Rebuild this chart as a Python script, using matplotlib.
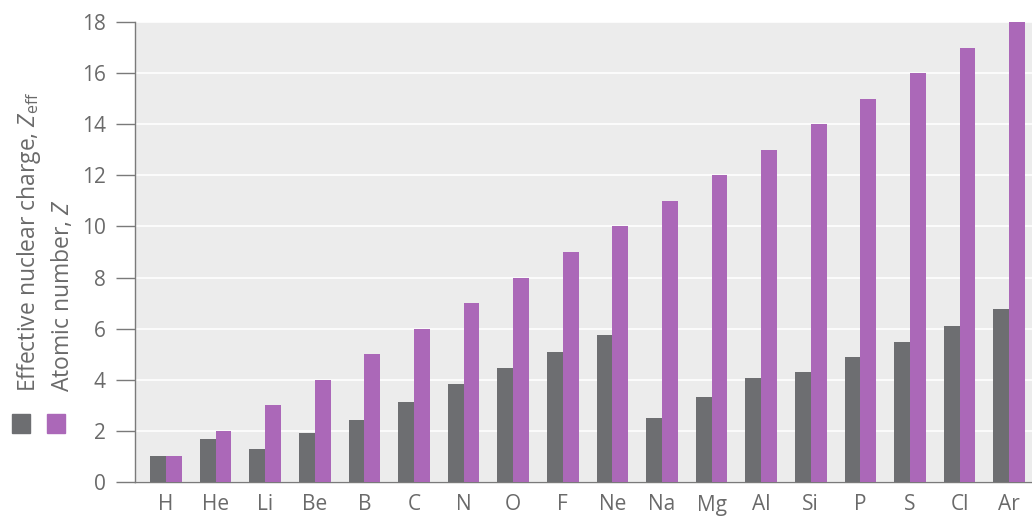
import matplotlib
matplotlib.use("Agg")
import matplotlib.pyplot as plt
from matplotlib.patches import Rectangle
import numpy as np

plt.rcParams['font.family'] = ['Open Sans', 'DejaVu Sans']
plt.rcParams['mathtext.fontset'] = 'custom'
plt.rcParams['mathtext.rm'] = 'Open Sans'
plt.rcParams['mathtext.it'] = 'Open Sans:italic'

# data
elements = ["H", "He", "Li", "Be", "B", "C", "N", "O", "F", "Ne",
            "Na", "Mg", "Al", "Si", "P", "S", "Cl", "Ar"]
z_eff = [1.00, 1.69, 1.28, 1.91, 2.42, 3.14, 3.83, 4.45, 5.10, 5.76,
         2.51, 3.31, 4.07, 4.29, 4.89, 5.48, 6.12, 6.76]
z_atomic = [1, 2, 3, 4, 5, 6, 7, 8, 9, 10, 11, 12, 13, 14, 15, 16, 17, 18]
y_ticks = [0, 2, 4, 6, 8, 10, 12, 14, 16, 18]

gray = "#6d6e71"
purple = "#ab68b8"
text_col = "#6a6a6a"

fig = plt.figure(figsize=(10.32, 5.18), dpi=100)
ax = fig.add_axes([135 / 1032, 36 / 518, 897 / 1032, 460 / 518])
ax.set_facecolor("#ececec")

x = np.arange(len(elements))
w = 0.32
ax.bar(x - w / 2, z_eff, width=w, color=gray, zorder=3)
ax.bar(x + w / 2, z_atomic, width=w, color=purple, zorder=3)

ax.set_xlim(-0.625, len(elements) - 0.54)
ax.set_ylim(0, 18)
ax.set_yticks(y_ticks)
ax.set_xticks(x)
ax.set_xticklabels(elements)
ax.yaxis.grid(True, color="white", linewidth=1.2, zorder=1)
ax.set_axisbelow(True)

for s in ["top", "right"]:
    ax.spines[s].set_visible(False)
for s in ["left", "bottom"]:
    ax.spines[s].set_color("#7a7a7a")
    ax.spines[s].set_linewidth(1.0)

ax.tick_params(axis="y", length=14, width=1, color="#7a7a7a", pad=7,
               labelsize=15, labelcolor=text_col)
ax.tick_params(axis="x", length=0, pad=9, labelsize=15, labelcolor=text_col)

# y-axis legend labels
fig.text(29 / 1032, 1 - 392 / 518, "Effective nuclear charge, $Z_{\\mathrm{eff}}$",
         rotation=90, ha="center", va="bottom", fontsize=16.5, color=text_col)
fig.text(62 / 1032, 1 - 392 / 518, "Atomic number, $Z$",
         rotation=90, ha="center", va="bottom", fontsize=16.5, color=text_col)
fig.patches.append(Rectangle((12 / 1032, 1 - 433 / 518), 18 / 1032, 19 / 518,
                             transform=fig.transFigure, color=gray))
fig.patches.append(Rectangle((47 / 1032, 1 - 433 / 518), 18 / 1032, 19 / 518,
                             transform=fig.transFigure, color=purple))

fig.savefig("out.png", dpi=100)
